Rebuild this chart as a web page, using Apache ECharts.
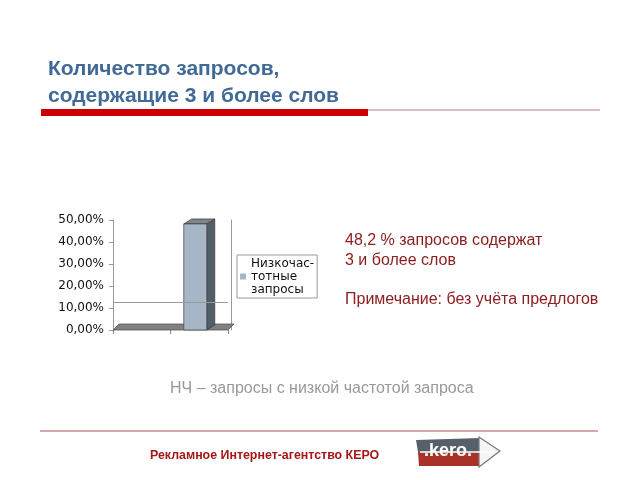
<!DOCTYPE html>
<html><head><meta charset="utf-8">
<script src="https://cdn.jsdelivr.net/npm/echarts@6/dist/echarts.min.js"></script>
<style>html,body{margin:0;padding:0;background:#fff}#c{width:640px;height:480px}</style>
</head><body><div id="c"></div>
<script>
const categories = ['', ''];
const seriesName = 'Низкочас-\nтотные\nзапросы';
const values = [0, 48.2];
const yTicks = [0, 10, 20, 30, 40, 50];
const refLineValue = 12.7;

const chart = echarts.init(document.getElementById('c'), null, {renderer: 'canvas'});
const SANS = '"Liberation Sans", Arial, sans-serif';
const DV = '"DejaVu Sans", Verdana, sans-serif';

function renderBar(params, api) {
  const v = api.value(1);
  if (!v) return;
  const cat = api.value(0);
  const top = api.coord([cat, v]);
  const base = api.coord([cat, 0]);
  const band = api.size([1, 0])[0];
  const w = band * 0.4, dx = 8, dy = -5;
  const x0 = top[0] - (w + dx) / 2, x1 = x0 + w;
  return {type: 'group', children: [
    {type: 'polygon', shape: {points: [[x1, top[1]], [x1 + dx, top[1] + dy], [x1 + dx, base[1] + dy], [x1, base[1]]]},
     style: {fill: '#545e68', stroke: '#333', lineWidth: 0.7}},
    {type: 'polygon', shape: {points: [[x0, top[1]], [x1, top[1]], [x1 + dx, top[1] + dy], [x0 + dx, top[1] + dy]]},
     style: {fill: '#7d858d', stroke: '#333', lineWidth: 0.7}},
    {type: 'rect', shape: {x: x0, y: top[1], width: w, height: base[1] - top[1]},
     style: {fill: '#a6b6c6', stroke: '#444', lineWidth: 0.7}}
  ]};
}
function renderFloor(params, api) {
  const cs = params.coordSys;
  const yb = cs.y + cs.height, dx = 6, dy = -6;
  return {type: 'polygon', shape: {points: [[cs.x, yb], [cs.x + cs.width, yb], [cs.x + cs.width + dx, yb + dy], [cs.x + dx, yb + dy]]},
    style: {fill: '#808080', stroke: '#555', lineWidth: 0.8}};
}

chart.setOption({
  animation: false,
  backgroundColor: '#fff',
  grid: {left: 113, right: 412, top: 220, bottom: 150},
  xAxis: {type: 'category', data: categories, axisLine: {show: false},
    axisTick: {show: true, length: 4, lineStyle: {color: '#888'}}, axisLabel: {show: false}},
  yAxis: [
    {type: 'value', min: 0, max: 50, interval: 10,
      axisLine: {show: true, lineStyle: {color: '#999'}},
      axisTick: {show: true, length: 4, lineStyle: {color: '#999'}},
      splitLine: {show: false},
      axisLabel: {margin: 9, color: '#111', fontSize: 12, fontFamily: DV,
        formatter: v => v.toFixed(2).replace('.', ',') + '%'}},
    {type: 'value', min: 0, max: 50, interval: 10, position: 'right', offset: 3,
      axisLine: {show: true, lineStyle: {color: '#999'}}, axisTick: {show: false}, axisLabel: {show: false}, splitLine: {show: false}}
  ],
  legend: {data: [seriesName], left: 237, top: 255, orient: 'vertical', borderColor: '#999', borderWidth: 1,
    padding: [2, 3, 2, 3], itemWidth: 6, itemHeight: 6, itemGap: 2, icon: 'rect',
    textStyle: {fontSize: 12, lineHeight: 13, color: '#111', fontFamily: DV}},
  series: [
    {type: 'custom', name: 'floor', renderItem: renderFloor, data: [[0, 0]], z: 1, silent: true},
    {type: 'line', name: 'ref', data: [], markLine: {silent: true, symbol: 'none', label: {show: false},
      lineStyle: {color: '#999', width: 1, type: 'solid'}, data: [{yAxis: refLineValue}]}},
    {type: 'custom', name: seriesName, renderItem: renderBar, itemStyle: {color: '#a6b6c6'},
      data: values.map((v, i) => [i, v]), z: 3, encode: {x: 0, y: 1}}
  ],
  graphic: [
    {type: 'text', left: 48, top: 56, style: {text: 'Количество запросов,\nсодержащие 3 и более слов',
      font: 'bold 21px ' + SANS, fill: '#416a96', lineHeight: 27}},
    {type: 'rect', shape: {x: 41, y: 109, width: 327, height: 7}, style: {fill: '#cc0000'}},
    {type: 'line', shape: {x1: 368, y1: 110, x2: 600, y2: 110}, style: {stroke: '#cfa8a8', lineWidth: 1.5}},
    {type: 'text', left: 345, top: 231, style: {text: '48,2 % запросов содержат\n3 и более слов\n\nПримечание: без учёта предлогов',
      font: '16px ' + SANS, fill: '#8c2020', lineHeight: 19.7}},
    {type: 'text', left: 170, top: 381, style: {text: 'НЧ – запросы с низкой частотой запроса', font: '16px ' + SANS, fill: '#999'}},
    {type: 'line', shape: {x1: 40, y1: 431, x2: 598, y2: 431}, style: {stroke: '#d3a9a9', lineWidth: 2}},
    {type: 'text', left: 150, top: 450, style: {text: 'Рекламное Интернет-агентство КЕРО', font: 'bold 12.4px ' + SANS, fill: '#a51818'}},
    {type: 'group', children: [
      {type: 'polygon', shape: {points: [[416, 440], [481, 438], [481, 452], [418, 452]]}, style: {fill: '#55606a'}},
      {type: 'polygon', shape: {points: [[418, 452], [481, 452], [481, 466], [419, 466]]}, style: {fill: '#a83228'}},
      {type: 'polygon', shape: {points: [[479, 437], [500, 451], [479, 467]]}, style: {fill: '#f4f4f4', stroke: '#777', lineWidth: 1.2}},
      {type: 'line', shape: {x1: 420, y1: 452, x2: 494, y2: 452}, style: {stroke: '#fff', lineWidth: 1.5}},
      {type: 'text', left: 424, top: 442, style: {text: '.kero.', font: 'bold 18px ' + SANS, fill: '#fff'}}
    ]}
  ]
});
</script></body></html>
